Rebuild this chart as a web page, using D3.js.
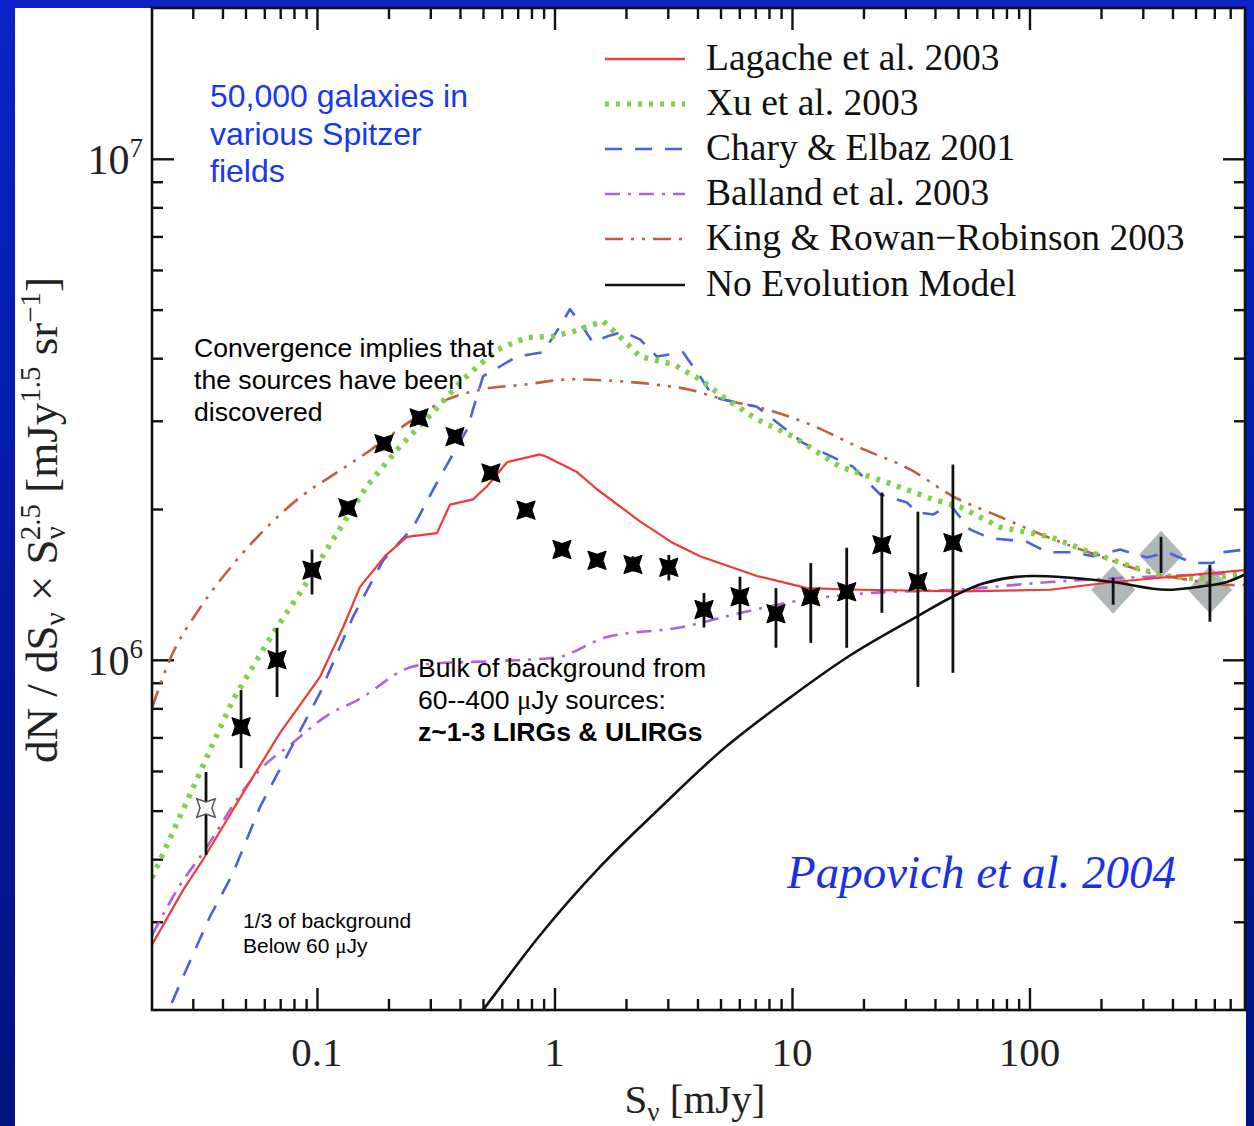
<!DOCTYPE html>
<html><head><meta charset="utf-8">
<script src="https://cdn.jsdelivr.net/npm/d3@7"></script>
<style>body{margin:0;background:#fff}svg{display:block}</style>
</head><body><svg id="c" width="1254" height="1126"></svg>
<script>
// ---------------- data ----------------
const lagacheS=[0.0202,0.0273,0.0331,0.0488,0.0699,0.103,0.1287,0.152,0.1933,0.239,0.320,0.363,0.454,0.520,0.631,0.869,0.930,1.244,1.51,2.29,3.155,4.10,7.12,11.56,19.33,51.0,122,225,808];
const lagacheN=[2.70e5,3.47e5,3.99e5,5.42e5,7.15e5,9.25e5,1.16e6,1.40e6,1.61e6,1.76e6,1.79e6,2.04e6,2.09e6,2.22e6,2.48e6,2.57e6,2.54e6,2.37e6,2.19e6,1.89e6,1.71e6,1.61e6,1.47e6,1.39e6,1.38e6,1.37e6,1.38e6,1.43e6,1.51e6];

const xuS=[0.0202,0.0273,0.0344,0.0443,0.0653,0.0848,0.117,0.162,0.224,0.308,0.412,0.573,0.766,0.986,1.196,1.60,1.94,2.29,3.155,4.10,5.12,7.12,10.1,15.9,25.1,39.3,51.0,75.1,122,168,273,379,522,808];
const xuN=[3.67e5,5.02e5,6.40e5,8.32e5,1.13e6,1.36e6,1.74e6,2.22e6,2.67e6,3.12e6,3.63e6,4.16e6,4.40e6,4.42e6,4.52e6,4.74e6,4.36e6,4.03e6,3.89e6,3.63e6,3.35e6,3.02e6,2.79e6,2.43e6,2.26e6,2.09e6,2.02e6,1.84e6,1.76e6,1.66e6,1.53e6,1.47e6,1.45e6,1.48e6];

const charyS=[0.0218,0.0273,0.0354,0.0443,0.0575,0.077,0.103,0.142,0.190,0.254,0.330,0.428,0.500,0.589,0.695,0.895,1.055,1.162,1.280,1.452,1.664,1.943,2.291,2.702,3.476,4.10,4.65,5.12,7.12,11.12,14.04,18.06,23.47,30.5,33.6,39.25,46.3,56.2,68.2,97.6,118.5,152.5,185.1,240.4,312.4,379.2,488,592.5,652.7,808];
const charyN=[1.82e5,2.33e5,3.07e5,3.75e5,5.08e5,6.61e5,8.59e5,1.22e6,1.58e6,1.84e6,2.32e6,2.88e6,3.68e6,3.85e6,4.03e6,4.11e6,4.63e6,5.01e6,4.71e6,4.30e6,4.42e6,4.52e6,4.36e6,4.03e6,4.11e6,3.68e6,3.35e6,3.31e6,3.20e6,2.71e6,2.57e6,2.43e6,2.14e6,2.06e6,1.97e6,1.95e6,2.04e6,1.82e6,1.75e6,1.72e6,1.64e6,1.64e6,1.61e6,1.66e6,1.60e6,1.64e6,1.56e6,1.56e6,1.64e6,1.66e6];

const ballandS=[0.0202,0.0265,0.0337,0.0474,0.0575,0.077,0.113,0.149,0.244,0.299,0.589,1.005,1.664,3.376,6.04,11.57,21.9,49.5,122,379,808];
const ballandN=[2.82e5,3.55e5,4.17e5,5.37e5,6.03e5,6.76e5,7.80e5,8.32e5,9.64e5,9.82e5,9.95e5,1.01e6,1.11e6,1.16e6,1.24e6,1.32e6,1.36e6,1.38e6,1.43e6,1.47e6,1.49e6];

const kingS=[0.0202,0.0240,0.0322,0.0443,0.0616,0.0848,0.117,0.162,0.254,0.330,0.486,0.737,1.196,1.664,2.702,3.72,5.12,7.85,11.91,19.33,31.4,47.6,75.1,122,198,322,443,719,808];
const kingN=[8.02e5,1.00e6,1.27e6,1.55e6,1.84e6,2.11e6,2.34e6,2.59e6,3.02e6,3.26e6,3.46e6,3.54e6,3.63e6,3.61e6,3.54e6,3.46e6,3.31e6,3.16e6,2.95e6,2.65e6,2.40e6,2.12e6,1.93e6,1.75e6,1.61e6,1.49e6,1.45e6,1.41e6,1.41e6];

const noEvoS=[0.441,0.5,0.869,1.554,2.781,4.975,9.526,17.54,33.6,49.5,63.7,103.4,143.9,224.7,379.2,522.4,678.5,808];
const noEvoN=[1.85e5,2.0e5,2.82e5,3.86e5,5.06e5,6.55e5,8.32e5,1.02e6,1.22e6,1.35e6,1.42e6,1.47e6,1.46e6,1.43e6,1.38e6,1.40e6,1.43e6,1.48e6];

// 24um counts (stars); first one is open symbol
const starS=[0.0341,0.0479,0.0679,0.0953,0.135,0.1915,0.269,0.381,0.540,0.759,1.075,1.51,2.14,3.03,4.26,6.04,8.56,12.0,17.0,23.9,33.9,47.6];
const starN=[5.06e5,7.35e5,1.0e6,1.51e6,2.01e6,2.70e6,3.04e6,2.79e6,2.36e6,1.99e6,1.66e6,1.58e6,1.55e6,1.53e6,1.26e6,1.336e6,1.236e6,1.336e6,1.367e6,1.697e6,1.431e6,1.713e6];
const starLo=[4.08e5,6.08e5,8.43e5,1.35e6,2.01e6,2.70e6,3.04e6,2.79e6,2.36e6,1.99e6,1.66e6,1.58e6,1.50e6,1.44e6,1.16e6,1.20e6,1.057e6,1.081e6,1.057e6,1.241e6,8.83e5,9.42e5];
const starHi=[5.97e5,8.71e5,1.158e6,1.66e6,2.01e6,2.70e6,3.04e6,2.79e6,2.36e6,1.99e6,1.66e6,1.58e6,1.61e6,1.62e6,1.36e6,1.465e6,1.39e6,1.56e6,1.674e6,2.157e6,1.976e6,2.453e6];

// bright-end points (grey diamonds)
const diaS=[225,358,575];
const diaN=[1.38e6,1.62e6,1.38e6];
const diaLo=[1.288e6,1.49e6,1.191e6];
const diaHi=[1.458e6,1.76e6,1.548e6];

const xMajor=[0.1,1,10,100];
const xMajorLabels=["0.1","1","10","100"];
const yMajor=[1e6,1e7];
const yMajorExp=["6","7"];

const legendLabels=["Lagache et al. 2003","Xu et al. 2003","Chary & Elbaz 2001","Balland et al. 2003","King & Rowan\u2212Robinson 2003","No Evolution Model"];

// ---------------- drawing ----------------
const svg=d3.select("#c");
const W=1254,H=1126;
const L=152,R=1245,T=8,B=1010;

const defs=svg.append("defs");
const grad=defs.append("linearGradient").attr("id","bg").attr("x1",0).attr("y1",0).attr("x2",0).attr("y2",1);
grad.append("stop").attr("offset","0%").attr("stop-color","#0a22c6");
grad.append("stop").attr("offset","100%").attr("stop-color","#00137e");
defs.append("clipPath").attr("id","clip").append("rect").attr("x",L).attr("y",T).attr("width",R-L).attr("height",B-T);

svg.append("rect").attr("width",W).attr("height",H).attr("fill","url(#bg)");
svg.append("rect").attr("x",15).attr("y",8).attr("width",1231).attr("height",H-8).attr("fill","#fff");

const x=d3.scaleLog().domain([0.0202,808]).range([L,R]);
const y=d3.scaleLog().domain([2.0e5,2.0e7]).range([B,T]);

const serif="'Liberation Serif','DejaVu Serif',serif";
const sans="'Liberation Sans',Arial,sans-serif";

// minor ticks
const xMinor=[];
[0.01,0.1,1,10,100].forEach(d=>{for(let k=2;k<=9;k++){const v=d*k;if(v>0.0205&&v<800&&!xMajor.includes(v))xMinor.push(v);}});
const yMinor=[];
[1e5,1e6,1e7].forEach(d=>{for(let k=2;k<=9;k++){const v=d*k;if(v>2.05e5&&v<1.99e7)yMinor.push(v);}});

function axisG(axis,tx,ty){
  const g=svg.append("g").attr("transform",`translate(${tx},${ty})`).call(axis);
  g.select(".domain").remove();
  g.selectAll(".tick line").attr("stroke","#111").attr("stroke-width",2.4);
  g.selectAll(".tick text").remove();
  return g;
}
axisG(d3.axisBottom(x).tickValues(xMajor).tickSize(-22).tickFormat(""),0,B);
axisG(d3.axisBottom(x).tickValues(xMinor).tickSize(-11).tickFormat(""),0,B);
axisG(d3.axisTop(x).tickValues(xMajor).tickSize(-22).tickFormat(""),0,T);
axisG(d3.axisTop(x).tickValues(xMinor).tickSize(-11).tickFormat(""),0,T);
axisG(d3.axisLeft(y).tickValues(yMajor).tickSize(-22).tickFormat(""),L,0);
axisG(d3.axisLeft(y).tickValues(yMinor).tickSize(-11).tickFormat(""),L,0);
axisG(d3.axisRight(y).tickValues(yMajor).tickSize(-22).tickFormat(""),R,0);
axisG(d3.axisRight(y).tickValues(yMinor).tickSize(-11).tickFormat(""),R,0);

// tick labels
svg.append("g").selectAll("text").data(xMajor).join("text")
  .attr("x",d=>x(d)).attr("y",1066).attr("text-anchor","middle")
  .attr("font-family",serif).attr("font-size",41).attr("fill","#222")
  .text((d,i)=>xMajorLabels[i]);
yMajor.forEach((d,i)=>{
  const t=svg.append("text").attr("x",143).attr("y",y(d)+15).attr("text-anchor","end")
    .attr("font-family",serif).attr("font-size",42).attr("fill","#222");
  t.append("tspan").text("10");
  t.append("tspan").attr("font-size",27).attr("dy",-17).text(yMajorExp[i]);
});

// axis titles
const xt=svg.append("text").attr("x",695).attr("y",1113).attr("text-anchor","middle")
  .attr("font-family",serif).attr("font-size",41).attr("fill","#222");
xt.append("tspan").text("S");
xt.append("tspan").attr("font-size",27).attr("dy",8).text("\u03bd");
xt.append("tspan").attr("dy",-8).text(" [mJy]");

const yt=svg.append("text").attr("transform","translate(57,520) rotate(-90)").attr("text-anchor","middle")
  .attr("font-family",serif).attr("font-size",45).attr("fill","#222");
yt.append("tspan").text("dN / dS");
yt.append("tspan").attr("font-size",29).attr("dy",8).text("\u03bd");
yt.append("tspan").attr("dy",-8).text(" \u00d7 S");
yt.append("tspan").attr("font-size",29).attr("dy",8).text("\u03bd");
yt.append("tspan").attr("font-size",29).attr("dx",-14).attr("dy",-25).text("2.5");
yt.append("tspan").attr("dy",17).text(" [mJy");
yt.append("tspan").attr("font-size",29).attr("dy",-17).text("1.5");
yt.append("tspan").attr("dy",17).text(" sr");
yt.append("tspan").attr("font-size",29).attr("dy",-17).text("\u22121");
yt.append("tspan").attr("dy",17).text("]");

// series
const styles=[
  {S:lagacheS,N:lagacheN,color:"#ee3b36",w:2.2,dash:null,curve:d3.curveLinear},
  {S:xuS,N:xuN,color:"#7fd246",w:5.5,dash:"4 7",curve:d3.curveLinear},
  {S:charyS,N:charyN,color:"#4a62dc",w:2.6,dash:"17 13",curve:d3.curveLinear},
  {S:ballandS,N:ballandN,color:"#b35fe2",w:2.6,dash:"15 8 3 8",curve:d3.curveMonotoneX},
  {S:kingS,N:kingN,color:"#c25e3e",w:2.6,dash:"18 8 3 8 3 8",curve:d3.curveMonotoneX},
  {S:noEvoS,N:noEvoN,color:"#111",w:2.6,dash:null,curve:d3.curveMonotoneX}
];

const plot=svg.append("g").attr("clip-path","url(#clip)");

// diamonds behind curves
const diaG=plot.append("g");
diaS.forEach((s,i)=>{
  const cx=x(s),cy=y(diaN[i]),r=24;
  diaG.append("path").attr("d",`M${cx},${cy-r}L${cx+r*0.92},${cy}L${cx},${cy+r}L${cx-r*0.92},${cy}Z`)
    .attr("fill","#a7afb0").attr("fill-opacity",0.9);
});

// draw order: brown, purple, blue, green, red, black
[4,3,2,1,0,5].forEach(k=>{
  const st=styles[k];
  const pts=st.S.map((s,i)=>[x(s),y(st.N[i])]);
  plot.append("path").attr("d",d3.line().curve(st.curve)(pts))
    .attr("fill","none").attr("stroke",st.color).attr("stroke-width",st.w)
    .attr("stroke-dasharray",st.dash).attr("stroke-linejoin","round");
});

// error bars
const eb=plot.append("g").attr("stroke","#111").attr("stroke-width",2.8);
starS.forEach((s,i)=>{ if(starHi[i]>starLo[i]) eb.append("line").attr("x1",x(s)).attr("x2",x(s)).attr("y1",y(starLo[i])).attr("y2",y(starHi[i])); });
diaS.forEach((s,i)=>{ eb.append("line").attr("x1",x(s)).attr("x2",x(s)).attr("y1",y(diaLo[i])).attr("y2",y(diaHi[i])); });

// star symbols
function starPath(cx,cy,Ro,ri){
  const p=[];
  for(let k=0;k<8;k++){
    const a=Math.PI/4*k; const r=(k%2===1)?Ro:ri;
    p.push([cx+r*Math.cos(a),cy+r*Math.sin(a)]);
  }
  return "M"+p.map(q=>q[0].toFixed(1)+","+q[1].toFixed(1)).join("L")+"Z";
}
starS.forEach((s,i)=>{
  plot.append("path").attr("d",starPath(x(s),y(starN[i]),13,6))
    .attr("fill",i===0?"#fff":"#000").attr("stroke",i===0?"#555":"#000").attr("stroke-width",i===0?1.5:1);
});

// frame
svg.append("rect").attr("x",L).attr("y",T).attr("width",R-L).attr("height",B-T)
  .attr("fill","none").attr("stroke","#111").attr("stroke-width",2.6);

// legend
const lg=svg.append("g");
const rowY=[58,103,148,193,238,284];
styles.forEach((st,i)=>{
  lg.append("line").attr("x1",605).attr("x2",685).attr("y1",rowY[i]+1).attr("y2",rowY[i]+1)
    .attr("stroke",st.color).attr("stroke-width",i===1?5:2.6).attr("stroke-dasharray",st.dash);
  lg.append("text").attr("x",706).attr("y",rowY[i]+12).attr("font-family",serif).attr("font-size",37.5)
    .attr("fill","#111").text(legendLabels[i]);
});

// annotations
function lines(arr,x0,y0,dy,size,color,weights){
  arr.forEach((t,i)=>{
    const el=svg.append("text").attr("x",x0).attr("y",y0+i*dy).attr("font-family",sans).attr("font-size",size)
      .attr("fill",color).attr("font-weight",weights&&weights[i]?"bold":"normal");
    if(Array.isArray(t)) t.forEach(seg=>{const ts=el.append("tspan").text(seg.t); if(seg.f) ts.attr("font-family",seg.f);});
    else el.text(t);
  });
}
lines(["50,000 galaxies in","various Spitzer","fields"],210,107,37.5,32,"#1638f2");
lines(["Convergence implies that","the sources have been","discovered"],194,357,32,26.6,"#000");
lines(["Bulk of background from",[{t:"60--400 "},{t:"\u03bc",f:serif},{t:"Jy sources:"}],"z~1-3 LIRGs & ULIRGs"],418,677,32,26.6,"#000",[0,0,1]);
lines(["1/3 of background",[{t:"Below 60 "},{t:"\u03bc",f:serif},{t:"Jy"}]],243,928,25,21,"#000");

svg.append("text").attr("x",787).attr("y",888).attr("font-family",serif).attr("font-style","italic")
  .attr("font-size",47).attr("fill","#1a30e6").text("Papovich et al. 2004");
</script></body></html>
